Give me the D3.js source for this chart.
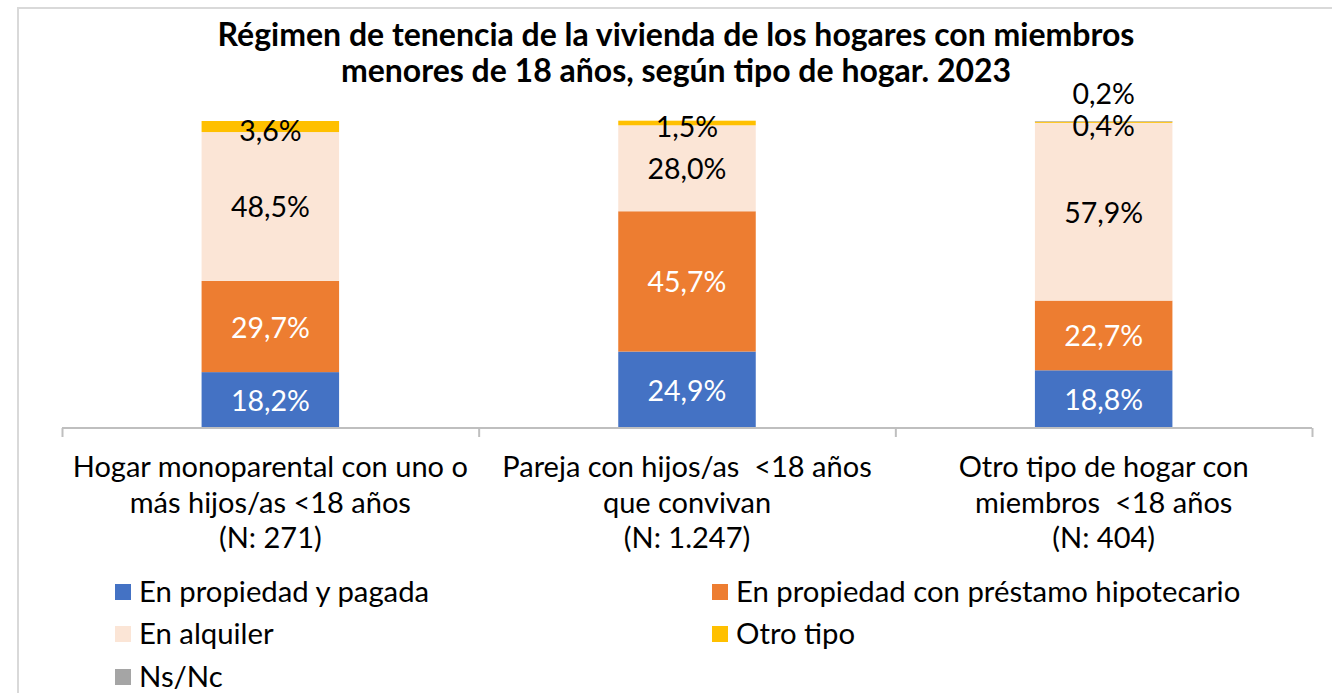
<!DOCTYPE html>
<html><head><meta charset="utf-8">
<script src="https://cdn.jsdelivr.net/npm/d3@7"></script>
<style>body{margin:0;background:#fff}svg{display:block}text{white-space:pre}</style>
</head><body><svg id="c" width="1332" height="693"></svg>
<script>
const categories = [
  ["Hogar monoparental con uno o", "más hijos/as <18 años", "(N: 271)"],
  ["Pareja con hijos/as  <18 años", "que convivan", "(N: 1.247)"],
  ["Otro tipo de hogar con", "miembros  <18 años", "(N: 404)"]
];
const seriesNames = ["En propiedad y pagada", "En propiedad con préstamo hipotecario", "En alquiler", "Otro tipo", "Ns/Nc"];
const propiedadPagada = [18.2, 24.9, 18.8];
const propiedadHipoteca = [29.7, 45.7, 22.7];
const alquiler = [48.5, 28.0, 57.9];
const otroTipo = [3.6, 1.5, 0.4];
const nsnc = [0, 0, 0.2];
const colors = ["#4472C4", "#ED7D31", "#FBE5D6", "#FFC000", "#A5A5A5"];
const labelColors = ["#fff", "#fff", "#000", "#000", "#000"];
const titleLines = ["Régimen de tenencia de la vivienda de los hogares con miembros", "menores de 18 años, según tipo de hogar. 2023"];

const svg = d3.select("#c");
const font = "Lato, 'Open Sans', sans-serif";
svg.append("rect").attr("x", 18).attr("y", 8).attr("width", 1400).attr("height", 800)
  .attr("fill", "#fff").attr("stroke", "#D9D9D9").attr("stroke-width", 2);

svg.append("g").selectAll("text").data(titleLines).join("text")
  .attr("x", 676).attr("y", (d, i) => 46 + i * 36)
  .attr("text-anchor", "middle").attr("font-family", font).attr("font-weight", 700)
  .attr("font-size", 32).attr("fill", "#000").text(d => d);

const seriesData = [propiedadPagada, propiedadHipoteca, alquiler, otroTipo, nsnc];
const table = categories.map((c, i) => {
  const o = { idx: i };
  seriesNames.forEach((s, j) => o[s] = seriesData[j][i]);
  return o;
});
const stack = d3.stack().keys(seriesNames)(table);

const x = d3.scaleBand().domain(d3.range(categories.length)).range([62, 1312]).paddingInner(0.67).paddingOuter(0.335);
const y = d3.scaleLinear().domain([0, 100]).range([428, 121]);

const g = svg.append("g");
stack.forEach((layer, j) => {
  g.append("g").selectAll("rect").data(layer).join("rect")
    .attr("x", d => x(d.data.idx)).attr("width", x.bandwidth())
    .attr("y", d => y(d[1])).attr("height", d => y(d[0]) - y(d[1]))
    .attr("fill", colors[j]);
});

// data labels
stack.forEach((layer, j) => {
  g.append("g").selectAll("text").data(layer.filter(d => d[1] - d[0] > 0)).join("text")
    .attr("x", d => x(d.data.idx) + x.bandwidth() / 2)
    .attr("y", d => {
      if (j === 4) return y(d[1]) - 27;
      const c = (y(d[0]) + y(d[1])) / 2;
      return j === 3 ? c + 4 : c + 1;
    })
    .attr("dy", "0.35em")
    .attr("text-anchor", "middle").attr("font-family", font).attr("font-size", 28.5)
    .attr("fill", labelColors[j])
    .text(d => d3.format(".1f")(d[1] - d[0]).replace(".", ",") + "%");
});

// axis
const axisScale = d3.scaleLinear().domain([0, categories.length]).range([62, 1312]);
const ax = svg.append("g").attr("transform", "translate(0,428)")
  .call(d3.axisBottom(axisScale).tickValues([0, 1, 2, 3]).tickSize(9).tickFormat(""));
ax.selectAll("path,line").attr("stroke", "#BFBFBF").attr("stroke-width", 2);
ax.select("path").attr("d", "M62,0H1312");

const cl = svg.append("g");
categories.forEach((lines, i) => {
  cl.append("g").selectAll("text").data(lines).join("text")
    .attr("x", x(i) + x.bandwidth() / 2).attr("y", (d, k) => 477 + k * 35.5)
    .attr("text-anchor", "middle").attr("font-family", font).attr("font-size", 29)
    .attr("fill", "#000").text(d => d);
});

// legend
const legPos = [[115, 592], [712, 592], [115, 634], [712, 634], [115, 677]];
const lg = svg.append("g");
seriesNames.forEach((s, i) => {
  const [lx, ly] = legPos[i];
  lg.append("rect").attr("x", lx).attr("y", ly - 8).attr("width", 16).attr("height", 16).attr("fill", colors[i]);
  lg.append("text").attr("x", lx + 24).attr("y", ly).attr("dy", "0.35em")
    .attr("font-family", font).attr("font-size", 29.3).attr("fill", "#000").text(s);
});
</script></body></html>
